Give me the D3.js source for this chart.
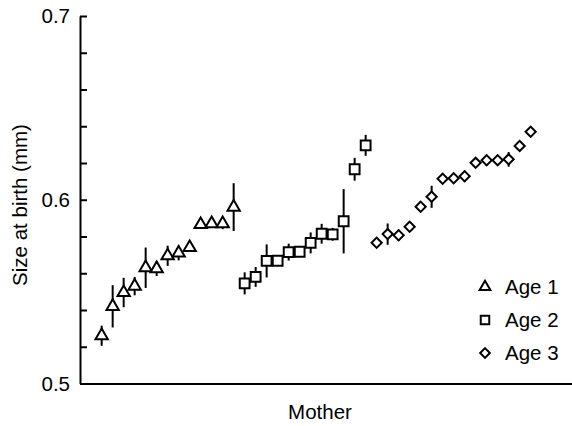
<!DOCTYPE html>
<html>
<head>
<meta charset="utf-8">
<script src="https://cdn.jsdelivr.net/npm/d3@7"></script>
<style>
  body { margin: 0; background: #fff; }
  text { font-family: "Liberation Sans", Arial, sans-serif; fill: #000; }
</style>
</head>
<body>
<svg id="chart" width="572" height="426"></svg>
<script>
// size at birth per mother, grouped by age of mother
const ageLabels = ["Age 1", "Age 2", "Age 3"];
const age1Mean = [0.526, 0.542, 0.5495, 0.553, 0.563, 0.5625, 0.5695, 0.571, 0.574, 0.5865, 0.587, 0.587, 0.596];
const age1Err  = [0.0055, 0.0115, 0.008, 0.005, 0.011, 0.004, 0.0055, 0.004, 0.002, 0.002, 0.002, 0.003, 0.013];
const age2Mean = [0.5545, 0.558, 0.5667, 0.5668, 0.5715, 0.5717, 0.5765, 0.5815, 0.5812, 0.5883, 0.6166, 0.6296];
const age2Err  = [0.006, 0.0054, 0.009, 0.0016, 0.0046, 0.0015, 0.0057, 0.0054, 0.0035, 0.0175, 0.0062, 0.0057];
const age3Mean = [0.5766, 0.5813, 0.5807, 0.5853, 0.5962, 0.6016, 0.6114, 0.6117, 0.6128, 0.6201, 0.6215, 0.6215, 0.622, 0.6293, 0.637];
const age3Err  = [0.002, 0.0058, 0.003, 0.002, 0.002, 0.006, 0.002, 0.002, 0.003, 0.002, 0.002, 0.002, 0.004, 0.002, 0.002];
const yTicks = [0.5, 0.52, 0.54, 0.56, 0.58, 0.6, 0.62, 0.64, 0.66, 0.68, 0.7];
const yTickLabels = {0.5: "0.5", 0.6: "0.6", 0.7: "0.7"};

const groups = [
  {label: ageLabels[0], mean: age1Mean, err: age1Err, shape: "tri"},
  {label: ageLabels[1], mean: age2Mean, err: age2Err, shape: "sq"},
  {label: ageLabels[2], mean: age3Mean, err: age3Err, shape: "dia"}
];

// mothers are laid out one after another along x
let idx = 0;
const points = [];
groups.forEach(g => {
  g.mean.forEach((m, i) => {
    points.push({i: idx++, mean: m, err: g.err[i], shape: g.shape});
  });
});

const svg = d3.select("#chart");
const fontSize = 20.5;

const x = d3.scaleLinear().domain([-1.97, 42.76]).range([80, 572]);
const y = d3.scaleLinear().domain([0.5, 0.7]).range([383.5, 16]);

const symType = {tri: d3.symbolTriangle, sq: d3.symbolSquare, dia: d3.symbolSquare};
const symSize = {tri: 66, sq: 96, dia: 52};
const legSize = {tri: 50, sq: 72, dia: 46};
const rot = s => s === "dia" ? " rotate(45)" : "";

// axes
const yAxis = d3.axisLeft(y)
  .tickValues(yTicks)
  .tickSizeInner(-7)
  .tickSizeOuter(0)
  .tickPadding(10)
  .tickFormat(d => yTickLabels[d] || "");

const gy = svg.append("g").attr("transform", "translate(80,0)").call(yAxis);
gy.selectAll("path, line").attr("stroke", "#000").attr("stroke-width", 2);
gy.selectAll("text")
  .attr("font-size", fontSize)
  .attr("font-family", "Liberation Sans, Arial, sans-serif")
  .attr("fill", "#000");

const xAxis = d3.axisBottom(x).tickValues([]).tickSizeOuter(0);
const gx = svg.append("g").attr("transform", "translate(0,383.5)").call(xAxis);
gx.select("path").attr("stroke", "#000").attr("stroke-width", 2);

// error bars
svg.selectAll(".err")
  .data(points)
  .enter()
  .append("line")
  .attr("class", "err")
  .attr("x1", d => x(d.i))
  .attr("x2", d => x(d.i))
  .attr("y1", d => y(d.mean - d.err))
  .attr("y2", d => y(d.mean + d.err))
  .attr("stroke", "#000")
  .attr("stroke-width", 2);

// markers
svg.selectAll(".pt")
  .data(points)
  .enter()
  .append("path")
  .attr("class", "pt")
  .attr("d", d => d3.symbol().type(symType[d.shape]).size(symSize[d.shape])())
  .attr("transform", d => `translate(${x(d.i)},${y(d.mean)})` + rot(d.shape))
  .attr("fill", "#fff")
  .attr("stroke", "#000")
  .attr("stroke-width", 2);

// labels
svg.append("text")
  .attr("transform", "translate(27,205) rotate(-90)")
  .attr("text-anchor", "middle")
  .attr("font-size", fontSize)
  .text("Size at birth (mm)");

svg.append("text")
  .attr("x", 320)
  .attr("y", 419)
  .attr("text-anchor", "middle")
  .attr("font-size", fontSize)
  .text("Mother");

// legend
const legend = svg.append("g").attr("transform", "translate(485,287)");
groups.forEach((g, i) => {
  const row = legend.append("g").attr("transform", `translate(0,${i * 33})`);
  row.append("path")
    .attr("d", d3.symbol().type(symType[g.shape]).size(legSize[g.shape])())
    .attr("transform", g.shape === "dia" ? "rotate(45)" : null)
    .attr("fill", "#fff")
    .attr("stroke", "#000")
    .attr("stroke-width", 2);
  row.append("text")
    .attr("x", 20)
    .attr("dy", "0.35em")
    .attr("font-size", fontSize)
    .text(g.label);
});
</script>
</body>
</html>
